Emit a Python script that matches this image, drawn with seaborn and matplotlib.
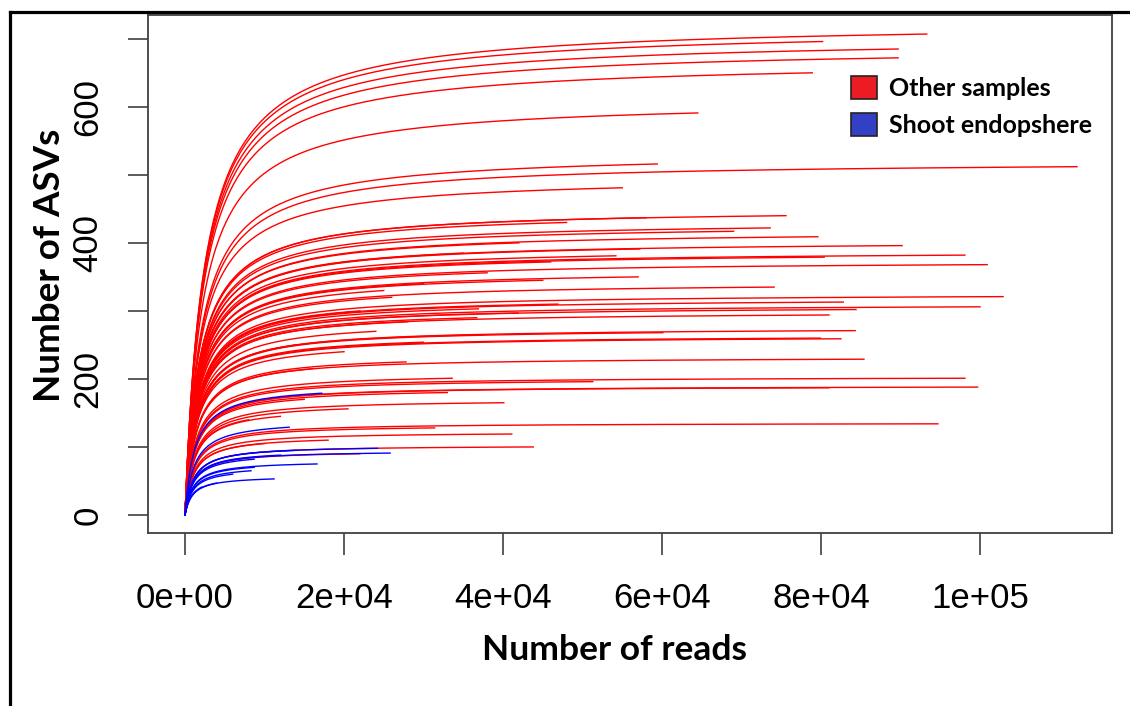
import numpy as np
import pandas as pd
import matplotlib
matplotlib.use("Agg")
import matplotlib.pyplot as plt
import seaborn as sns
from matplotlib.patches import Patch
from matplotlib.lines import Line2D
from matplotlib.font_manager import FontProperties

# ---- data: total reads and final ASV count per sample ----
other_reads = [93300, 80200, 89700, 89700, 78900, 64500, 59400, 112200, 55000,
               75600, 58000, 73600, 69000, 79600, 90200, 57200, 98100, 54200, 80400, 100900,
               48000, 42000, 35000, 46000, 38000, 57000, 30000, 45000, 25000,
               74100, 102900, 82800, 100000, 84400, 81000, 84300, 82500, 79900, 85400,
               98100, 99700, 81000, 94700, 60100,
               46900, 36900, 41900, 36700, 28000, 37400, 30000, 27800, 33600, 51300,
               33000, 40100, 31400, 41100, 43800, 22000, 20500,
               15000, 12000, 18000, 10000, 8000, 20000, 16000, 24000, 14000, 26000, 22000]
other_asvs = [707, 696, 685, 672, 650, 591, 516, 512, 481,
              440, 437, 422, 417, 409, 396, 391, 382, 381, 379, 368,
              430, 400, 385, 372, 356, 350, 340, 345, 330,
              335, 321, 313, 306, 302, 294, 271, 259, 260, 229,
              201, 188, 187, 134, 268,
              310, 303, 297, 290, 284, 265, 254, 225, 201, 196,
              180, 165, 128, 119, 100, 90, 156,
              170, 145, 110, 105, 140, 240, 215, 270, 250, 320, 300]
shoot_reads = [17200, 13100, 24200, 25800, 16600, 8700, 8300, 11200, 4000, 2100,
               600, 8700, 12000, 6000, 14000]
shoot_asvs = [179, 129, 98, 91, 75, 70, 65, 53, 47, 41, 32, 82, 88, 60, 95]

group_labels = ["Other samples", "Shoot endopshere"]
x_ticks = [0, 20000, 40000, 60000, 80000, 100000]
x_tick_labels = ["0e+00", "2e+04", "4e+04", "6e+04", "8e+04", "1e+05"]
y_ticks = [0, 100, 200, 300, 400, 500, 600, 700]
y_tick_labels = ["0", "", "200", "", "400", "", "600", ""]

# ---- build rarefaction-style curves ending at each sample's (reads, ASVs) ----
rows = []
sid = 0
for grp, reads, asvs in [(group_labels[0], other_reads, other_asvs),
                         (group_labels[1], shoot_reads, shoot_asvs)]:
    for N, S in zip(reads, asvs):
        K = 800 + 2.3 * S
        n = np.linspace(0, N, 300)
        a = S * (K + N) / N
        s = a * n / (K + n)
        for xi, yi in zip(n, s):
            rows.append((sid, grp, xi, yi))
        sid += 1
df = pd.DataFrame(rows, columns=["sample", "group", "reads", "asvs"])

W, H = 1130, 706
fig = plt.figure(figsize=(W / 100, H / 100), dpi=100)
ax = fig.add_axes([148 / W, 1 - 533 / H, (1112 - 148) / W, (533 - 15) / H])

palette = {group_labels[0]: "#FF0000", group_labels[1]: "#0000FF"}
sns.lineplot(data=df, x="reads", y="asvs", units="sample", estimator=None,
             hue="group", palette=palette, lw=1.0, legend=False, sort=False, ax=ax)

ax.set_xlim(-4654, 116600)
ax.set_ylim(-26.5, 735)
ax.set_xlabel("")
ax.set_ylabel("")
for sp in ax.spines.values():
    sp.set_color("#404040")
    sp.set_linewidth(1.3)

tick_font = "Liberation Sans"
ax.set_xticks(x_ticks)
ax.set_xticklabels(x_tick_labels, fontsize=25, family=tick_font)
ax.set_yticks(y_ticks)
ax.set_yticklabels(y_tick_labels, fontsize=25, family=tick_font, rotation=90, va="center")
ax.tick_params(axis="x", length=15.5, width=1.2, color="#404040", pad=20)
ax.tick_params(axis="y", length=14.5, width=1.2, color="#404040", pad=17)

fig.text(50 / W, 1 - 265 / H, "Number of ASVs", rotation=90, ha="center", va="center",
         fontsize=26.5, fontweight="bold", family="Lato")
fig.text(615 / W, 1 - 650 / H, "Number of reads", ha="center", va="center",
         fontsize=25.5, fontweight="bold", family="Lato")

handles = [Patch(facecolor="#ED1C24", edgecolor="#222222", lw=1.2, label=group_labels[0]),
           Patch(facecolor="#3340C4", edgecolor="#222222", lw=1.2, label=group_labels[1])]
ax.legend(handles=handles, loc="upper left", bbox_to_anchor=(828 / W, 1 - 53 / H),
          bbox_transform=fig.transFigure, frameon=False, handlelength=1.05,
          handleheight=1.05, handletextpad=0.5, labelspacing=0.52,
          prop=FontProperties(family="Lato", weight="bold", size=18))

# outer frame (left and top edges)
fig.add_artist(Line2D([9.5 / W, 9.5 / W], [0, 1 - 12 / H], transform=fig.transFigure,
                      color="black", lw=2.3))
fig.add_artist(Line2D([9.5 / W, 1], [1 - 12 / H, 1 - 12 / H], transform=fig.transFigure,
                      color="black", lw=2.3))

fig.savefig("out.png", dpi=100)
